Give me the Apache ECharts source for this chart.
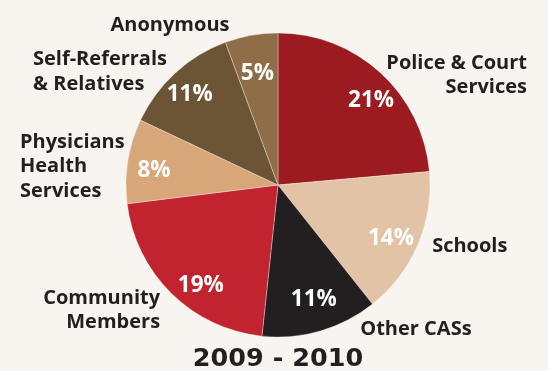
<!DOCTYPE html>
<html>
<head>
<meta charset="utf-8">
<script src="https://cdn.jsdelivr.net/npm/echarts@6/dist/echarts.min.js"></script>
<style>
  html, body { margin: 0; padding: 0; background: #f8f5f0; }
  #chart { width: 548px; height: 371px; }
</style>
</head>
<body>
<div id="chart"></div>
<script>
// ---- data ----
var categories = [
  'Police & Court\nServices',
  'Schools',
  'Other CASs',
  'Community\nMembers',
  'Physicians\nHealth\nServices',
  'Self-Referrals\n& Relatives',
  'Anonymous'
];
var values = [21, 14, 11, 19, 8, 11, 5];
var sliceColors = ['#9b1b20', '#e3c3a6', '#231f20', '#c1232f', '#d7a679', '#6b5535', '#8f6d48'];
var chartTitle = '2009 - 2010';

// ---- label placement (styles, not data) ----
var labelPlacement = [
  { label: { alignTo: 'edge', edgeDistance: 21 }, labelLine: { length: -3.4, length2: 0 } },
  { label: { alignTo: 'none' }, labelLine: { length: 3.8, length2: 6 } },
  { label: { alignTo: 'none' }, labelLine: { length: -1.4, length2: 35.3 } },
  { label: { alignTo: 'none' }, labelLine: { length: 23.4, length2: -10 } },
  { label: { alignTo: 'edge', edgeDistance: 20 }, labelLine: { length: -35, length2: 0 } },
  { label: { alignTo: 'edge', edgeDistance: 33 }, labelLine: { length: 1.3, length2: 0 } },
  { label: { alignTo: 'none' }, labelLine: { length: 10.5, length2: 15 } }
];
// small nudges of the percentage labels from the slice mid-angle
var pctNudge = [[10, 6.5], [0, 5.5], [1.5, -3.7], [9, 13], [-2.5, 5.3], [-5.3, 0], [1, 9.3]];

var FONT = '"Open Sans", "Noto Sans", sans-serif';

var mainData = categories.map(function (name, i) {
  return {
    name: name,
    value: values[i],
    itemStyle: { color: sliceColors[i] },
    label: labelPlacement[i].label,
    labelLine: Object.assign({ show: false }, labelPlacement[i].labelLine)
  };
});

var pctData = categories.map(function (name, i) {
  return { name: name, value: values[i] };
});

var chart = echarts.init(document.getElementById('chart'), null, { renderer: 'canvas' });
chart.setOption({
  backgroundColor: '#f8f5f0',
  animation: false,
  series: [
    {
      type: 'pie',
      center: [278, 185],
      radius: 152,
      startAngle: 90,
      clockwise: true,
      avoidLabelOverlap: false,
      silent: true,
      itemStyle: { borderColor: 'rgba(248,245,240,0.6)', borderWidth: 0.6 },
      label: {
        show: true,
        position: 'outside',
        formatter: '{b}',
        color: '#231f20',
        fontFamily: FONT,
        fontWeight: 'bold',
        fontSize: 20,
        lineHeight: 24.5
      },
      labelLine: { show: false },
      emphasis: { disabled: true },
      data: mainData
    },
    {
      type: 'pie',
      center: [278, 185],
      radius: [88, 152],
      startAngle: 90,
      clockwise: true,
      silent: true,
      z: 3,
      itemStyle: { color: 'rgba(0,0,0,0)' },
      label: {
        show: true,
        position: 'inside',
        formatter: '{c}%',
        color: '#ffffff',
        fontFamily: FONT,
        fontWeight: 'bold',
        fontSize: 22.5
      },
      labelLayout: function (params) {
        var n = pctNudge[params.dataIndex] || [0, 0];
        return { dx: n[0], dy: n[1] };
      },
      labelLine: { show: false },
      emphasis: { disabled: true },
      data: pctData
    }
  ],
  graphic: [
    {
      type: 'text',
      x: 278,
      y: 359.5,
      style: {
        text: chartTitle,
        textAlign: 'center',
        textVerticalAlign: 'middle',
        fill: '#231f20',
        font: 'bold 25.5px "DejaVu Sans", sans-serif'
      }
    }
  ]
});
</script>
</body>
</html>
